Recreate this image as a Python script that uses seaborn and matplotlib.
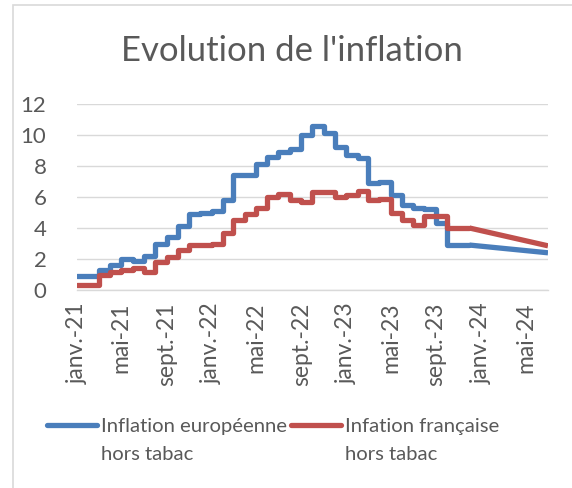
import matplotlib
matplotlib.use("Agg")
import matplotlib.pyplot as plt
from matplotlib.lines import Line2D
from matplotlib.patches import Rectangle
import seaborn as sns
import pandas as pd

# monthly values, Jan 2021 .. Nov 2023 (steps)
months = pd.date_range("2021-01-01", "2023-11-01", freq="MS")
europe = [0.9, 0.9, 1.3, 1.6, 2.0, 1.9, 2.2, 3.0, 3.4, 4.1, 4.9, 5.0,
          5.1, 5.8, 7.4, 7.4, 8.1, 8.6, 8.9, 9.1, 10.0, 10.6, 10.1, 9.2,
          8.7, 8.5, 6.9, 7.0, 6.1, 5.5, 5.3, 5.2, 4.3, 2.9, 2.9]
france = [0.3, 0.3, 1.0, 1.15, 1.3, 1.4, 1.15, 1.8, 2.1, 2.6, 2.9, 2.9,
          3.0, 3.7, 4.5, 4.9, 5.3, 6.0, 6.2, 5.8, 5.7, 6.3, 6.3, 6.0,
          6.1, 6.4, 5.8, 5.9, 5.0, 4.5, 4.2, 4.8, 4.8, 4.0, 4.0]

# forecast segment (straight line)
forecast_dates = pd.to_datetime(["2023-12-01", "2024-07-01"])
europe_forecast = [2.9, 2.4]
france_forecast = [4.0, 2.85]

tick_dates = pd.date_range("2021-01-01", "2024-05-01", freq="4MS")
tick_labels = ["janv.-21", "mai-21", "sept.-21", "janv.-22", "mai-22", "sept.-22",
               "janv.-23", "mai-23", "sept.-23", "janv.-24", "mai-24"]

series_names = ["Inflation européenne", "Infation française"]
series_suffix = "hors tabac"
colors = ["#4A7EBB", "#C0504D"]
text_color = "#595959"
grid_color = "#D9D9D9"

sns.set_style("white")
plt.rcParams["font.family"] = ["Lato", "DejaVu Sans"]

fig = plt.figure(figsize=(5.72, 4.88), dpi=100)
ax = fig.add_axes([77 / 572, 1 - 290 / 488, (548 - 77) / 572, (290 - 104) / 488])

# chart area border
fig.patches.append(Rectangle((13 / 572, -0.1), 1.2, 1 - 5 / 488 + 0.1,
                             transform=fig.transFigure, fill=False,
                             edgecolor=grid_color, linewidth=1.2))

hist = pd.DataFrame({"date": months, "europe": europe, "france": france})
fc = pd.DataFrame({"date": forecast_dates, "europe": europe_forecast, "france": france_forecast})

for col, color in zip(["europe", "france"], colors):
    # extend last step to forecast start
    steps = pd.concat([hist[["date", col]], fc[["date", col]].iloc[:1]], ignore_index=True)
    sns.lineplot(data=steps, x="date", y=col, ax=ax, color=color, linewidth=3.8,
                 drawstyle="steps-post", estimator=None)
    sns.lineplot(data=fc, x="date", y=col, ax=ax, color=color, linewidth=3.8,
                 estimator=None, solid_capstyle="butt")

ax.set_xlim(pd.Timestamp("2021-01-01"), pd.Timestamp("2024-07-01"))
ax.set_ylim(0, 12)
ax.set_yticks(range(0, 13, 2))
ax.set_xticks(tick_dates)
ax.set_xticklabels(tick_labels, rotation=90)
ax.set_xlabel("")
ax.set_ylabel("")

ax.grid(axis="y", color=grid_color, linewidth=1)
ax.set_axisbelow(True)
for side in ["top", "right", "left"]:
    ax.spines[side].set_visible(False)
ax.spines["bottom"].set_color(grid_color)
ax.spines["bottom"].set_linewidth(1)
ax.tick_params(axis="x", which="major", direction="out", length=6, width=1,
               color=grid_color, labelcolor=text_color, labelsize=16.5, pad=3)
ax.tick_params(axis="y", length=0, labelcolor=text_color, labelsize=16, pad=22)

fig.text(292 / 572, 1 - 61 / 488, "Evolution de l'inflation", ha="center",
         va="baseline", fontsize=25, color=text_color)

# legend: first row with line handles, second row with the label continuation
handles, leg_labels = [], []
for color, name in zip(colors, series_names):
    handles += [Line2D([], [], color=color, linewidth=3.8, solid_capstyle="round"),
                Line2D([], [], color="none")]
    leg_labels += [name, series_suffix]
ax.legend(handles, leg_labels, loc="upper left", bbox_to_anchor=(37 / 572, 1 - 408 / 488),
          bbox_transform=fig.transFigure, ncol=2, frameon=False, fontsize=14.6,
          labelcolor=text_color, handlelength=2.45, handletextpad=0.2,
          columnspacing=0.2, labelspacing=0.5, borderpad=0)

fig.savefig("out.png", dpi=100)
